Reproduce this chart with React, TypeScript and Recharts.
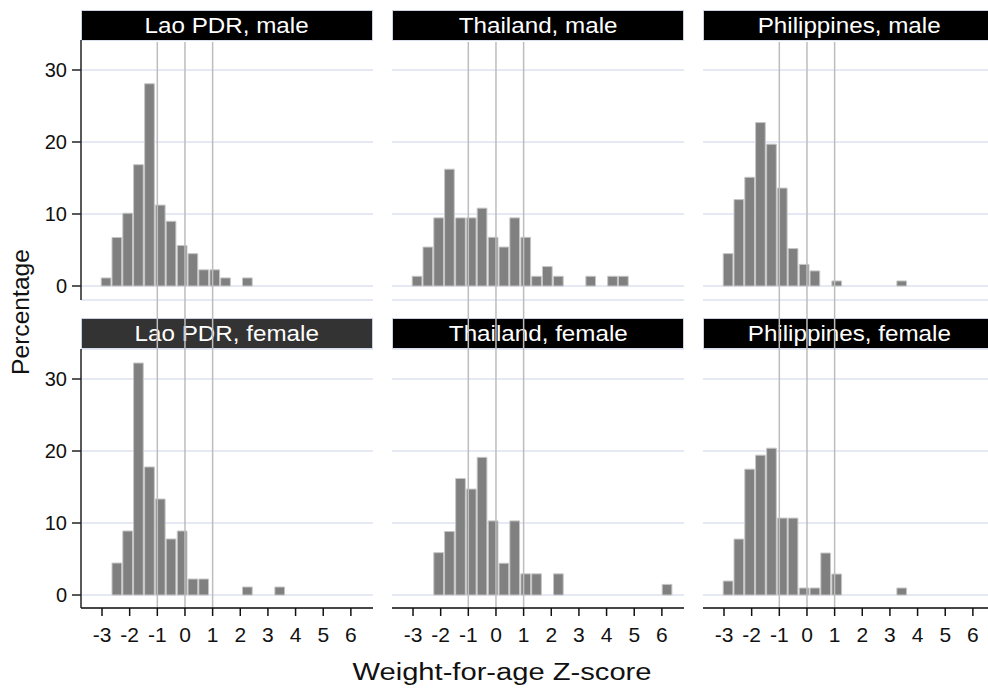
import React from 'react';
import { BarChart, Bar, XAxis, YAxis, CartesianGrid, ReferenceLine } from 'recharts';

// bin centres of the Z-score histogram (bins of ~0.39 starting at -3.07)
const binCenters = [
  -2.87, -2.48, -2.09, -1.7, -1.3, -0.91, -0.52, -0.12, 0.27, 0.66, 1.06, 1.45,
  1.84, 2.24, 2.63, 3.02, 3.41, 3.81, 4.2, 4.59, 4.99, 5.38, 5.77, 6.17,
];
const xTicks = [-3, -2, -1, 0, 1, 2, 3, 4, 5, 6];
const yTicks = [0, 10, 20, 30];
const cutoffs = [-1, 0, 1];

const laoMale = [1.12, 6.74, 10.11, 16.85, 28.09, 11.24, 8.99, 5.62, 4.49, 2.25, 2.25, 1.12, 0, 1.12, 0, 0, 0, 0, 0, 0, 0, 0, 0, 0];
const thaiMale = [1.35, 5.41, 9.46, 16.22, 9.46, 9.46, 10.81, 6.76, 5.41, 9.46, 6.76, 1.35, 2.7, 1.35, 0, 0, 1.35, 0, 1.35, 1.35, 0, 0, 0, 0];
const philMale = [4.5, 12.0, 15.1, 22.7, 19.7, 13.6, 5.2, 3.0, 2.1, 0, 0.7, 0, 0, 0, 0, 0, 0.7, 0, 0, 0, 0, 0, 0, 0];
const laoFemale = [0, 4.44, 8.89, 32.22, 17.78, 13.33, 7.78, 8.89, 2.22, 2.22, 0, 0, 0, 1.11, 0, 0, 1.11, 0, 0, 0, 0, 0, 0, 0];
const thaiFemale = [0, 0, 5.88, 8.82, 16.18, 14.71, 19.12, 10.29, 4.41, 10.29, 2.94, 2.94, 0, 2.94, 0, 0, 0, 0, 0, 0, 0, 0, 0, 1.47];
const philFemale = [1.94, 7.77, 17.48, 19.42, 20.39, 10.68, 10.68, 0.97, 0.97, 5.83, 2.91, 0, 0, 0, 0, 0, 0.97, 0, 0, 0, 0, 0, 0, 0];

const panels = [
  { title: 'Lao PDR, male', values: laoMale, row: 0, col: 0, bg: '#000' },
  { title: 'Thailand, male', values: thaiMale, row: 0, col: 1, bg: '#000' },
  { title: 'Philippines, male', values: philMale, row: 0, col: 2, bg: '#000' },
  { title: 'Lao PDR, female', values: laoFemale, row: 1, col: 0, bg: '#333' },
  { title: 'Thailand, female', values: thaiFemale, row: 1, col: 1, bg: '#000' },
  { title: 'Philippines, female', values: philFemale, row: 1, col: 2, bg: '#000' },
];

const FONT = '"Liberation Sans", Arial, Helvetica, sans-serif';
const COL_X = [81, 392, 703];
const PLOT_W = 292;
const Y_AXIS_W = 50;
const X_DOMAIN: [number, number] = [-3.76, 6.8];
const BIN_W = 0.393;
const PX_PER_UNIT = 7.2;

const ROWS = [
  { titleTop: 10, svgTop: 40, plotTop: 40, plotBottom: 300, svgBottom: 318, zero: 286 },
  { titleTop: 318, svgTop: 318, plotTop: 349, plotBottom: 608, svgBottom: 648, zero: 595 },
];

const toVal = (r: any, px: number) => (r.zero - px) / PX_PER_UNIT;

function Panel({ title, values, row, col, bg }: any) {
  const r = ROWS[row];
  const showY = col === 0;
  const data = binCenters.map((z, i) => ({ z, pct: values[i] }));
  const left = COL_X[col] - (showY ? Y_AXIS_W : 0);
  const width = PLOT_W + (showY ? Y_AXIS_W : 0);
  const height = r.svgBottom - r.svgTop;
  const yDomain: [number, number] = [toVal(r, r.plotBottom), toVal(r, r.plotTop)];
  const lineTop = toVal(r, row === 0 ? r.plotTop + 2 : r.svgTop);
  const lineBottom = toVal(r, row === 0 ? r.svgBottom : r.plotBottom);
  const barPx = (PLOT_W * BIN_W) / (X_DOMAIN[1] - X_DOMAIN[0]) - 0.02;

  return (
    <>
      <div
        style={{
          position: 'absolute',
          left: COL_X[col],
          top: r.titleTop,
          width: PLOT_W,
          height: 31,
          boxSizing: 'border-box',
          border: '1px solid #c9d1e0',
          background: bg,
          color: '#fff',
          fontFamily: FONT,
          fontSize: 22,
          lineHeight: '29px',
          textAlign: 'center',
          zIndex: 1,
        }}
      >
        <span style={{ display: 'inline-block', transform: 'scaleX(1.1)' }}>{title}</span>
      </div>
      <div style={{ position: 'absolute', left, top: r.svgTop, zIndex: 2 }}>
        <BarChart
          width={width}
          height={height}
          data={data}
          margin={{ top: r.plotTop - r.svgTop, right: 0, bottom: row === 0 ? r.svgBottom - r.plotBottom : 0, left: 0 }}
        >
          <CartesianGrid horizontal vertical={false} stroke="#dde2ef" strokeWidth={1.3} />
          <XAxis
            type="number"
            dataKey="z"
            domain={X_DOMAIN}
            allowDataOverflow
            ticks={xTicks}
            hide={row === 0}
            height={r.svgBottom - r.plotBottom}
            tickSize={8}
            tickMargin={11}
            axisLine={{ stroke: '#111', strokeWidth: 1.5 }}
            tickLine={{ stroke: '#111', strokeWidth: 1.5 }}
            tick={{ fill: '#111', fontSize: 21, fontFamily: FONT }}
          />
          <YAxis
            type="number"
            domain={yDomain}
            allowDataOverflow
            ticks={yTicks}
            hide={!showY}
            width={Y_AXIS_W}
            tickSize={9}
            tickMargin={5}
            axisLine={{ stroke: '#222', strokeWidth: 1.5 }}
            tickLine={{ stroke: '#222', strokeWidth: 1.5 }}
            tick={{ fill: '#111', fontSize: 20, fontFamily: FONT }}
          />
          <Bar
            dataKey="pct"
            fill="#808080"
            stroke="#c6c6c6"
            strokeWidth={1}
            barSize={barPx}
            isAnimationActive={false}
          />
          {cutoffs.map((c) => (
            <ReferenceLine
              key={c}
              segment={[{ x: c, y: lineTop }, { x: c, y: lineBottom }]}
              stroke="#bdbdbd"
              strokeWidth={1.5}
              ifOverflow="visible"
            />
          ))}
        </BarChart>
      </div>
    </>
  );
}

export default function App() {
  return (
    <div
      style={{
        position: 'absolute',
        left: 0,
        top: 0,
        width: 988,
        height: 694,
        overflow: 'hidden',
        background: '#fff',
        fontFamily: FONT,
      }}
    >
      {panels.map((p) => (
        <Panel key={p.title} {...p} />
      ))}
      <svg width={988} height={694} style={{ position: 'absolute', left: 0, top: 0, pointerEvents: 'none' }}>
        <text
          x={0}
          y={0}
          transform="translate(29 312) rotate(-90)"
          textAnchor="middle"
          fontSize={23}
          fontFamily={FONT}
          fill="#111"
          textLength={126}
          lengthAdjust="spacingAndGlyphs"
        >
          Percentage
        </text>
        <text
          x={502}
          y={680}
          textAnchor="middle"
          fontSize={23}
          fontFamily={FONT}
          fill="#111"
          textLength={299}
          lengthAdjust="spacingAndGlyphs"
        >
          Weight-for-age Z-score
        </text>
      </svg>
    </div>
  );
}
